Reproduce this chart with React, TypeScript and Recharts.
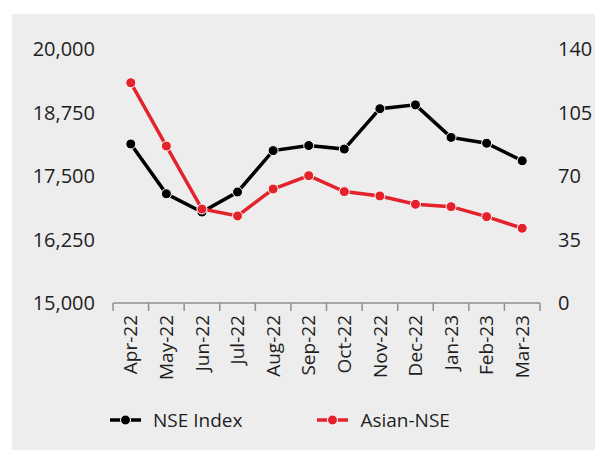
import { LineChart, Line, XAxis, YAxis } from 'recharts';

const months = ['Apr-22', 'May-22', 'Jun-22', 'Jul-22', 'Aug-22', 'Sep-22', 'Oct-22', 'Nov-22', 'Dec-22', 'Jan-23', 'Feb-23', 'Mar-23'];
const nseIndex = [18130, 17150, 16790, 17185, 18000, 18100, 18030, 18825, 18900, 18260, 18145, 17800];
const asianNse = [121.4, 86.5, 51.8, 48.0, 62.8, 70.2, 61.4, 59.0, 54.4, 53.1, 47.6, 41.2];
const leftTicks = [15000, 16250, 17500, 18750, 20000];
const rightTicks = [0, 35, 70, 105, 140];

const series = [
  { key: 'nse', name: 'NSE Index', color: '#000000', axis: 'left' },
  { key: 'asian', name: 'Asian-NSE', color: '#e3222b', axis: 'right' },
];

const data = months.map((m, i) => ({ month: m, nse: nseIndex[i], asian: asianNse[i] }));

const W = 583;
const H = 436;
const LEFT_W = 101;
const RIGHT_W = 55;
const BAND = (W - LEFT_W - RIGHT_W) / months.length;
const FONT = '"Open Sans", sans-serif';
const TEXT = '#1e1e1e';
const AXIS = '#8f8f8f';

// label rotated, plus tick marks on category boundaries
function MonthTick(props: any) {
  const { x, y, payload, index } = props;
  const top = y - 12;
  const bottom = y - 4;
  return (
    <g>
      <line x1={x - BAND / 2} x2={x - BAND / 2} y1={top} y2={bottom} stroke={AXIS} strokeWidth={1.5} />
      {index === months.length - 1 && (
        <line x1={x + BAND / 2} x2={x + BAND / 2} y1={top} y2={bottom} stroke={AXIS} strokeWidth={1.5} />
      )}
      <g transform={`translate(${x},${y})`}>
        <text transform="rotate(-90)" textAnchor="end" dy="0.35em" fill={TEXT} fontSize={19} fontFamily={FONT}>
          {payload.value}
        </text>
      </g>
    </g>
  );
}

function LegendIcon({ color }: { color: string }) {
  return (
    <svg width={31} height={12} style={{ display: 'block' }}>
      <line x1={0} x2={31} y1={6} y2={6} stroke={color} strokeWidth={3.5} />
      <circle cx={15.5} cy={6} r={5} fill={color} stroke="#fff" strokeWidth={1} />
    </svg>
  );
}

export default function App() {
  return (
    <div style={{ position: 'fixed', left: 12, top: 14, width: W, height: H, background: '#ededed' }}>
      <LineChart width={W} height={H} data={data} margin={{ top: 35, right: 0, left: 0, bottom: 0 }}>
        <XAxis
          dataKey="month"
          height={147}
          interval={0}
          padding={{ left: BAND / 2, right: BAND / 2 }}
          tickLine={false}
          tickSize={8}
          tickMargin={4}
          axisLine={{ stroke: AXIS, strokeWidth: 1.5 }}
          tick={<MonthTick />}
        />
        <YAxis
          yAxisId="left"
          width={LEFT_W}
          domain={[15000, 20000]}
          ticks={leftTicks}
          axisLine={false}
          tickLine={false}
          tickSize={6}
          tickMargin={12}
          tickFormatter={(v: number) => v.toLocaleString('en-US')}
          tick={{ fill: TEXT, fontSize: 20, fontFamily: FONT }}
        />
        <YAxis
          yAxisId="right"
          orientation="right"
          width={RIGHT_W}
          domain={[0, 140]}
          ticks={rightTicks}
          axisLine={false}
          tickLine={false}
          tickSize={6}
          tickMargin={12}
          tick={{ fill: TEXT, fontSize: 20, fontFamily: FONT }}
        />
        {series.map(s => (
          <Line
            key={s.key}
            yAxisId={s.axis}
            dataKey={s.key}
            name={s.name}
            type="linear"
            stroke={s.color}
            strokeWidth={3.5}
            dot={{ r: 5, fill: s.color, stroke: '#ffffff', strokeWidth: 1 }}
            isAnimationActive={false}
          />
        ))}
      </LineChart>
      <div style={{ position: 'absolute', left: 98, top: 394, display: 'flex', alignItems: 'center', fontFamily: FONT, fontSize: 19, color: TEXT }}>
        {series.map((s, i) => (
          <div key={s.key} style={{ display: 'flex', alignItems: 'center', marginRight: i === 0 ? 75 : 0 }}>
            <LegendIcon color={s.color} />
            <span style={{ marginLeft: 12, lineHeight: '24px' }}>{s.name}</span>
          </div>
        ))}
      </div>
    </div>
  );
}
